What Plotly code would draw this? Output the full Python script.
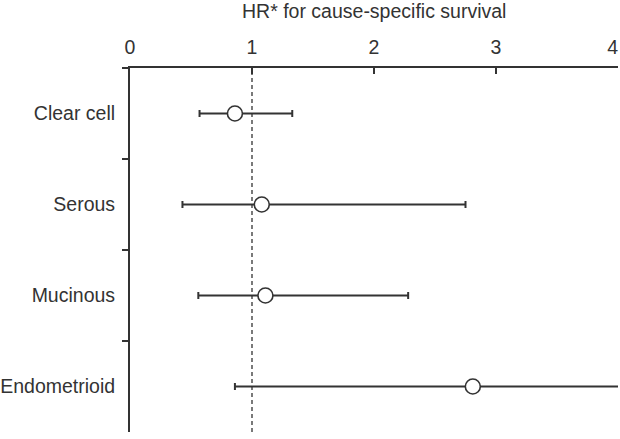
import plotly.graph_objects as go

# histologic subtypes and hazard ratios
subtypes = ["Clear cell", "Serous", "Mucinous", "Endometrioid"]
hr = [0.86, 1.08, 1.11, 2.81]
ci_low = [0.57, 0.43, 0.56, 0.86]
ci_high = [1.33, 2.75, 2.28, 4.5]
x_ticks = [0, 1, 2, 3, 4]
# last label padded so it is not sliced by the right edge
x_labels = ["0", "1", "2", "3", "4\u00a0\u00a0"]

ink = "#333333"
font = dict(family="Liberation Sans, Arial, sans-serif", size=19.5, color=ink)

fig = go.Figure()
fig.add_trace(
    go.Scatter(
        x=hr,
        y=subtypes,
        mode="markers",
        marker=dict(size=15, color="white", line=dict(color=ink, width=1.6)),
        error_x=dict(
            type="data",
            symmetric=False,
            array=[h - e for h, e in zip(ci_high, hr)],
            arrayminus=[e - l for e, l in zip(hr, ci_low)],
            color=ink,
            thickness=2,
            width=3.5,
        ),
        cliponaxis=True,
        showlegend=False,
    )
)

# reference line at HR = 1
fig.add_shape(
    type="line", xref="x", yref="paper", x0=1, x1=1, y0=0, y1=1,
    line=dict(color=ink, width=1.3, dash="4px,3px"),
)

# axis title sits close to the top edge, so place it by hand
fig.add_annotation(
    text="HR* for cause-specific survival",
    xref="paper", yref="paper", x=0.5, y=1,
    xanchor="center", yanchor="middle", yshift=57,
    showarrow=False, font=font,
)

fig.update_xaxes(
    side="top",
    range=[0, 4],
    tickvals=x_ticks,
    ticktext=x_labels,
    ticks="inside",
    ticklen=6,
    tickwidth=2,
    tickcolor=ink,
    showline=True,
    linewidth=2,
    linecolor=ink,
    showgrid=False,
    zeroline=False,
    tickfont=font,
    ticklabelstandoff=4,
    ticklabeloverflow="allow",
)
fig.update_yaxes(
    type="category",
    categoryorder="array",
    categoryarray=subtypes,
    range=[3.5, -0.5],
    tickson="boundaries",
    ticks="outside",
    ticklen=6,
    tickwidth=2,
    tickcolor=ink,
    showline=True,
    linewidth=2,
    linecolor=ink,
    showgrid=False,
    zeroline=False,
    tickfont=font,
    ticklabelstandoff=9,
)
fig.update_layout(
    width=620,
    height=439,
    margin=dict(l=130, r=2, t=68, b=7, autoexpand=False),
    paper_bgcolor="white",
    plot_bgcolor="white",
    font=font,
)

# page body has a default margin; drop it so the figure sits at the window corner
fig.write_html(
    "out.html",
    config={"displayModeBar": False},
    post_script="document.body.style.margin = '0';",
)
